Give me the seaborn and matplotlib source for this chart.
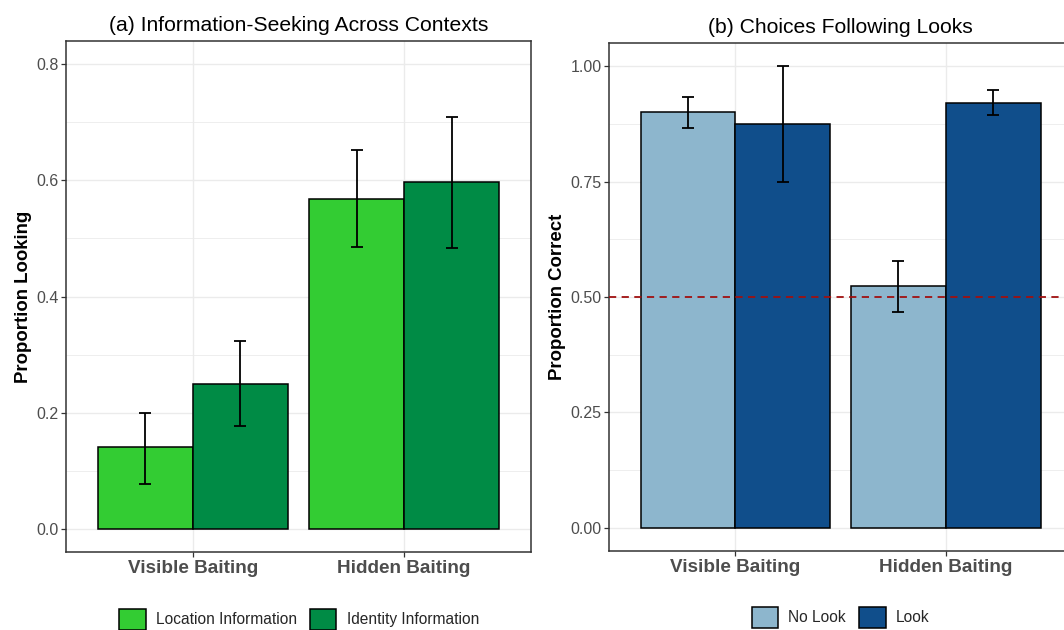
import pandas as pd
import seaborn as sns
import matplotlib.pyplot as plt
from matplotlib.patches import Patch
from matplotlib.ticker import MultipleLocator

# Panel (a): information seeking
contexts = ["Visible Baiting", "Hidden Baiting"]
info_types = ["Location Information", "Identity Information"]
look_mean = [0.14, 0.25, 0.568, 0.597]      # order: visible loc, visible id, hidden loc, hidden id
look_lo = [0.077, 0.177, 0.486, 0.484]
look_hi = [0.200, 0.323, 0.653, 0.710]

# Panel (b): choices following looks
look_groups = ["No Look", "Look"]
correct_mean = [0.90, 0.875, 0.523, 0.921]  # order: visible nolook, visible look, hidden nolook, hidden look
correct_lo = [0.866, 0.750, 0.468, 0.895]
correct_hi = [0.934, 1.000, 0.578, 0.948]

green_pal = {"Location Information": "#33CC33", "Identity Information": "#008B45"}
blue_pal = {"No Look": "#8DB6CD", "Look": "#104E8B"}

df_a = pd.DataFrame({
    "Context": [c for c in contexts for _ in info_types],
    "Type": info_types * 2,
    "Prop": look_mean, "lo": look_lo, "hi": look_hi,
})
df_b = pd.DataFrame({
    "Context": [c for c in contexts for _ in look_groups],
    "Group": look_groups * 2,
    "Prop": correct_mean, "lo": correct_lo, "hi": correct_hi,
})

sns.set_theme(style="white")
plt.rcParams['font.family'] = ['Liberation Sans', 'DejaVu Sans']

fig = plt.figure(figsize=(10.64, 6.3), dpi=100)
ax1 = fig.add_axes([0.0620, 0.1238, 0.4370, 0.8111])
ax2 = fig.add_axes([0.5724, 0.1254, 0.4352, 0.8063])

GRID = "#EBEBEB"
GREY30 = "#4D4D4D"
GREY20 = "#333333"


def draw_panel(ax, data, hue, pal, order, ylim, major, minor, ylabel, title, fmt):
    ax.set_axisbelow(True)
    sns.barplot(data=data, x="Context", y="Prop", hue=hue, hue_order=order,
                order=contexts, palette=pal, width=0.9, errorbar=None,
                edgecolor="black", linewidth=1.1, saturation=1, ax=ax,
                legend=False)
    # error bars at each bar centre
    bars = [p for p in ax.patches if p.get_height() > 0]
    bars = sorted(bars, key=lambda p: p.get_x())
    for p, (_, row) in zip(bars, data.iterrows()):
        xc = p.get_x() + p.get_width() / 2
        ax.errorbar(xc, row["Prop"], yerr=[[row["Prop"] - row["lo"]], [row["hi"] - row["Prop"]]],
                    fmt="none", ecolor="black", elinewidth=1.3, capsize=4.2,
                    capthick=1.3, zorder=5)
    ax.set_xlim(-0.6, 1.6)
    ax.set_ylim(*ylim)
    ax.yaxis.set_major_locator(MultipleLocator(major))
    ax.yaxis.set_minor_locator(MultipleLocator(minor))
    ax.yaxis.set_major_formatter(plt.FormatStrFormatter(fmt))
    ax.grid(which="major", color=GRID, linewidth=1.0)
    ax.grid(which="minor", axis="y", color=GRID, linewidth=0.6)
    for s in ax.spines.values():
        s.set_color(GREY20)
        s.set_linewidth(1.1)
    ax.tick_params(axis="both", which="major", length=3.5, width=0.9, color=GREY20,
                   bottom=True, left=True, pad=2)
    ax.tick_params(axis="y", which="minor", length=0)
    ax.tick_params(axis="y", labelsize=11.5, labelcolor=GREY30)
    ax.tick_params(axis="x", labelsize=13.6, labelcolor=GREY30)
    for t in ax.get_xticklabels():
        t.set_fontweight("bold")
    ax.set_xlabel("")
    ax.set_ylabel(ylabel, fontsize=13.4, fontweight="bold", color="black", labelpad=3)
    ax.set_title(title, fontsize=15.2, color="black", pad=7)
    handles = [Patch(facecolor=pal[k], edgecolor="black", linewidth=1.1, label=k) for k in order]
    return handles


h1 = draw_panel(ax1, df_a, "Type", green_pal, info_types, (-0.04, 0.84), 0.2, 0.1,
                "Proportion Looking", "(a) Information-Seeking Across Contexts", "%.1f")
h2 = draw_panel(ax2, df_b, "Group", blue_pal, look_groups, (-0.05, 1.05), 0.25, 0.125,
                "Proportion Correct", "(b) Choices Following Looks", "%.2f")

ax2.axhline(0.5, color="#A01010", linestyle=(0, (4, 3)), linewidth=1.3, zorder=4)

leg_kw = dict(loc="center", ncol=2, frameon=False, fontsize=11.2,
              handlelength=1.7, handleheight=1.7, handletextpad=0.65,
              columnspacing=0.85, borderaxespad=0)
fig.legend(handles=h1, bbox_to_anchor=(0.281, 0.017), **leg_kw)
fig.legend(handles=h2, bbox_to_anchor=(0.79, 0.020), **leg_kw)

fig.savefig("out.png", dpi=100)
